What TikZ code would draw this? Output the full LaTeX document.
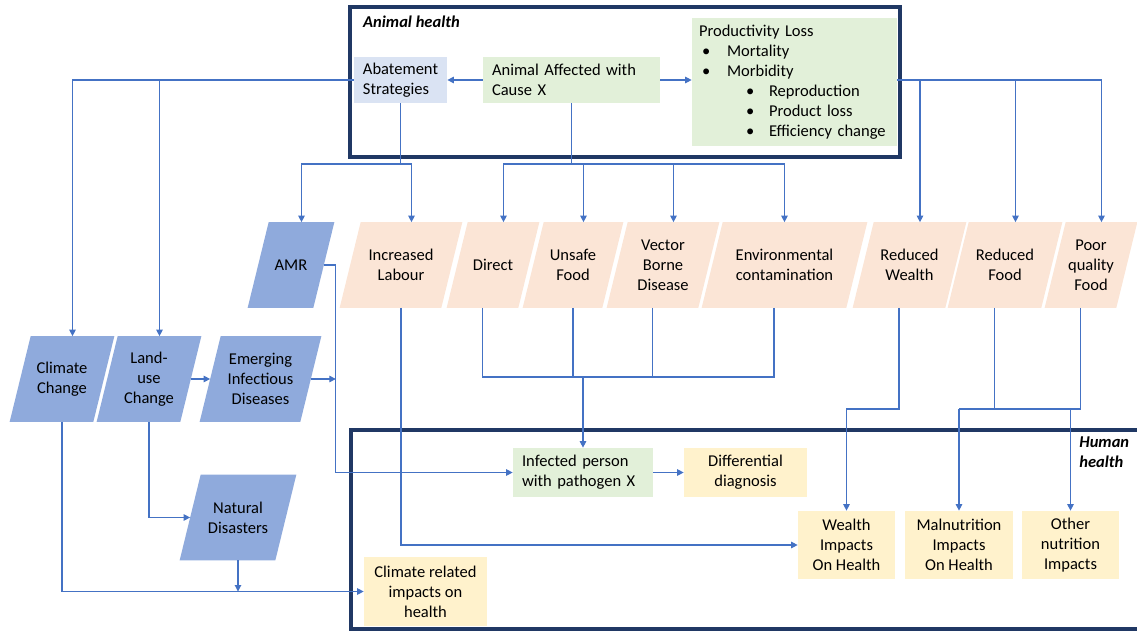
\documentclass[tikz,border=0pt]{standalone}
\usepackage{fontspec}
\setmainfont{Carlito}
\usetikzlibrary{arrows.meta}
\usetikzlibrary{backgrounds}
\usetikzlibrary{shapes,positioning,calc}
\tikzset{>={Triangle[length=0.13cm,width=0.13cm]}}
\definecolor{navy}{HTML}{203864}
\definecolor{linkblue}{HTML}{4472C4}
\definecolor{parablue}{HTML}{8FAADC}
\definecolor{peach}{HTML}{FBE5D6}
\definecolor{paleblue}{HTML}{DAE3F3}
\definecolor{palegreen}{HTML}{E2F0D9}
\definecolor{paleyellow}{HTML}{FFF2CC}
\tikzset{
  hframe/.style={draw=navy,line width=1.9pt},
  link/.style={draw=linkblue,line width=0.6pt},
  para/.style={rectangle,minimum height=1.7cm,inner sep=0pt,align=center},
  lbox/.style={rectangle,inner xsep=0.18cm,inner ysep=0pt,align=left},
  cbox/.style={rectangle,inner sep=0pt,align=center,fill=paleyellow},
  tag/.style={font=\fontsize{9.4}{11.4}\selectfont\bfseries\itshape}
}
\newcommand{\bulA}[1]{\hspace*{0.06cm}\makebox[0.5cm][l]{\textbullet}#1}
\newcommand{\bulB}[1]{\hspace*{0.94cm}\makebox[0.46cm][l]{\textbullet}#1}

\begin{document}
\begin{tikzpicture}[x=0.02cm,y=-0.02cm,font=\fontsize{9.4}{11.4}\selectfont]
\useasboundingbox (0,0) rectangle (1137,632);
% frames
\draw[hframe] (350,7) rectangle (900,157);
\node[tag,anchor=west] (ahtag) at (357,22) {Animal health};
\draw[hframe] (1139,430) -- (351,430) -- (351,629) -- (1139,629);
\node[tag,anchor=north west,align=left,inner sep=0pt] (hhtag) at (1079,436) {Human\\health};

% animal health
\node[lbox,fill=paleblue,minimum width=1.7cm,minimum height=0.92cm] (abate) at (400.5,80) {Abatement\\Strategies};
\node[lbox,fill=palegreen,text width=3.18cm,minimum height=0.92cm] (animal) at (571.5,80) {Animal Affected with\\Cause X};
\node[lbox,fill=palegreen,inner xsep=0.14cm,text width=3.82cm,minimum height=2.56cm] (prod) at (794.5,82)
  {Productivity Loss\\\bulA{Mortality}\\\bulA{Morbidity}\\\bulB{Reproduction}\\\bulB{Product loss}\\\bulB{Efficiency change}};

% pathways (slanted boxes filled below)
\node[para,minimum width=1.3cm] (amr) at (291,265) {AMR};
\node[para,minimum width=2.02cm] (lab) at (401,265) {Increased\\Labour};
\node[para,minimum width=1.42cm] (direct) at (493,265) {Direct};
\node[para,minimum width=1.58cm] (unsafe) at (573,265) {Unsafe\\Food};
\node[para,minimum width=1.82cm] (vector) at (663,265) {Vector\\Borne\\Disease};
\node[para,minimum width=2.88cm] (env) at (784.5,265) {Environmental\\contamination};
\node[para,minimum width=1.84cm] (rwealth) at (909.5,265) {Reduced\\Wealth};
\node[para,minimum width=1.86cm] (rfood) at (1005,265) {Reduced\\Food};
\node[para,minimum width=1.42cm] (poor) at (1091,265) {Poor\\quality\\Food};
\node[para,minimum width=1.66cm] (clim) at (62,379) {Climate\\Change};
\node[para,minimum width=1.66cm] (land) at (149,379) {Land-\\use\\Change};
\node[para,minimum width=2.0cm] (emerg) at (260.5,379) {Emerging\\Infectious\\Diseases};
\node[para,minimum width=1.9cm] (nat) at (238,517.5) {Natural\\Disasters};
\begin{scope}[on background layer]
\foreach \n/\c in {amr/parablue,lab/peach,direct/peach,unsafe/peach,vector/peach,env/peach,
    rwealth/peach,rfood/peach,poor/peach,clim/parablue,land/parablue,emerg/parablue,nat/parablue}
  \fill[\c] ([xshift=-0.21cm]\n.south west) -- ([xshift=0.21cm]\n.north west)
    -- ([xshift=0.21cm]\n.north east) -- ([xshift=-0.21cm]\n.south east) -- cycle;
\end{scope}

% human health
\node[lbox,fill=palegreen,text width=2.44cm,minimum height=0.98cm] (inf) at (583,472.5) {Infected person\\with pathogen X};
\node[cbox,minimum width=2.46cm,minimum height=0.98cm] (diff) at (745.5,472.5) {Differential\\diagnosis};
\node[cbox,minimum width=2.46cm,minimum height=1.38cm] (cimp) at (425.5,591.5) {Climate related\\impacts on\\health};
\node[cbox,minimum width=1.94cm,minimum height=1.36cm] (wimp) at (846.5,545) {Wealth\\Impacts\\On Health};
\node[cbox,minimum width=2.16cm,minimum height=1.36cm] (mal) at (959,545) {Malnutrition\\Impacts\\On Health};
\node[cbox,minimum width=1.94cm,minimum height=1.36cm] (other) at (1070.5,545) {Other\\nutrition\\Impacts};

% connectors
\begin{scope}[link]
\draw[->] (animal.west) -- (abate.east);
\draw[->] (animal.east) -- (animal.east -| prod.west);
\draw[->] (abate.west) -| ([xshift=0.21cm]clim.north);
\coordinate (landtop) at ([xshift=0.21cm]land.north);
\draw[->] (abate.west -| landtop) -- (landtop);
\coordinate (asplit) at (abate.south |- 0,164);
\draw (abate.south) -- (asplit);
\draw[->] (asplit) -| ([xshift=0.21cm]amr.north);
\draw[->] (asplit) -| ([xshift=0.21cm]lab.north);
\coordinate (csplit) at (animal.south |- 0,164);
\draw (animal.south) -- (csplit);
\draw[->] (csplit) -| ([xshift=0.21cm]direct.north);
\draw[->] (csplit) -| (env.north);
\foreach \n in {unsafe,vector} \draw[<-] ([xshift=0.21cm]\n.north) -- ++(0,-58.5);
\coordinate (pout) at (prod.east |- animal.east);
\draw[->] (pout) -| ([xshift=0.21cm]poor.north);
\foreach \n in {rwealth,rfood} \draw[<-] ([xshift=0.21cm]\n.north) -- ++(0,-142.5);

\draw[->] (land.east) -- (emerg.west);
\coordinate (amrx) at ($(amr.east)+(12,0)$);
\draw[->] (amr.east) -- (amrx) |- (inf.west);
\draw[->] (emerg.east) -- (emerg.east -| amrx);
\draw[->] (land.south) |- (nat.west);
\draw[->] (clim.south) |- (cimp.west);
\draw[->] (nat.south) -- (nat.south |- cimp.west);
\draw[->] (lab.south) |- (wimp.west);

\coordinate (merge) at (inf.north |- 0,377);
\draw ([xshift=-0.21cm]direct.south) |- (merge);
\draw ([xshift=-0.21cm]env.south) |- (merge);
\draw (unsafe.south) -- (unsafe.south |- merge);
\draw ([xshift=-0.21cm]vector.south) -- ++(0,69);
\draw[->] (merge) -- (inf.north);
\draw[->] (inf.east) -- (diff.west);

\coordinate (wsplit) at (wimp.north |- 0,409);
\draw[->] ([xshift=-0.21cm]rwealth.south) |- (wsplit) -- (wimp.north);
\coordinate (fdrop) at ([xshift=-0.21cm]rfood.south);
\coordinate (nsplit) at (fdrop |- 0,409);
\draw (fdrop) -- (nsplit);
\draw ([xshift=-0.21cm]poor.south) |- (mal.north |- nsplit);
\draw[->] (mal.north |- nsplit) -- (mal.north);
\draw[->] (other.north |- nsplit) -- (other.north);
\end{scope}
\end{tikzpicture}
\end{document}
